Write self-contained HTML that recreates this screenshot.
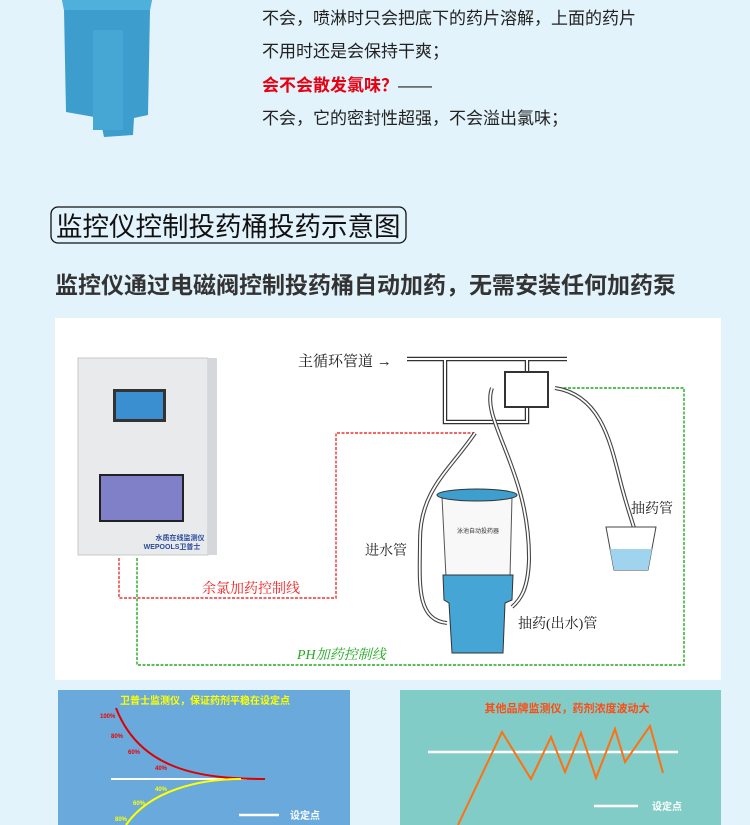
<!DOCTYPE html>
<html><head><meta charset="utf-8"><style>
body{margin:0;width:750px;height:825px;overflow:hidden;background:#e3f3fb;font-family:"Liberation Sans","Noto Sans CJK SC",sans-serif}
</style></head><body>
<svg width="750" height="825" viewBox="0 0 750 825" xmlns="http://www.w3.org/2000/svg" style="position:absolute;left:0;top:0">
<rect width="750" height="825" fill="#e3f3fb"/>
<path d="M62 0 L152 0 L150 10 L148 115 L134 118 L133 135 L104 137 L100 118 L66 112 L64 10 Z" fill="#3d9dcd"/>
<path d="M62 0 L152 0 L150 10 L64 10 Z" fill="#4fb0dc"/>
<rect x="93" y="30" width="30" height="100" fill="#46a6d4"/>
<g font-family="'Liberation Sans','Noto Sans CJK SC',sans-serif" font-size="17" fill="#222">
<text x="262" y="24">不会，喷淋时只会把底下的药片溶解，上面的药片</text>
<text x="262" y="57">不用时还是会保持干爽；</text>
<text x="262" y="91" fill="#e60012" font-weight="bold">会不会散发氯味？<tspan fill="#222" font-weight="normal">——</tspan></text>
<text x="262" y="124">不会，它的密封性超强，不会溢出氯味；</text>
</g>
<rect x="51" y="207" width="355" height="36" rx="7" fill="none" stroke="#111" stroke-width="1.3"/>
<text x="56" y="236" font-size="26.5" fill="#111" font-family="'Liberation Sans','Noto Sans CJK SC',sans-serif">监控仪控制投药桶投药示意图</text>
<text x="55" y="293" font-size="23" font-weight="bold" fill="#333" font-family="'Liberation Sans','Noto Sans CJK SC',sans-serif">监控仪通过电磁阀控制投药桶自动加药，无需安装任何加药泵</text>
<rect x="55" y="318" width="666" height="362" fill="#fff"/>
<rect x="78" y="358" width="130" height="197" fill="#e9eaec" stroke="#c8c8c8"/>
<rect x="208" y="358" width="9" height="197" fill="#d6d7da"/>
<rect x="113" y="389" width="53" height="33" fill="#333"/>
<rect x="116" y="392" width="47" height="27" fill="#3a8fd0"/>
<rect x="99" y="474" width="85" height="48" fill="#222"/>
<rect x="101" y="476" width="81" height="44" fill="#8080c8"/>
<text x="180" y="540" font-size="7" font-weight="bold" fill="#2a4a9a" text-anchor="middle">水质在线监测仪</text>
<text x="172" y="549" font-size="7" font-weight="bold" fill="#2a4a9a" text-anchor="middle">WEPOOLS卫普士</text>
<path d="M119 558 V598 H336 V433 H475" fill="none" stroke="#e33" stroke-width="1.4" stroke-dasharray="3,1.5"/>
<path d="M137 558 V665 H684 V388 H555" fill="none" stroke="#2a2" stroke-width="1.4" stroke-dasharray="3,1.5"/>
<g fill="none" stroke="#333" stroke-width="4.5"><path d="M407 359 H567 M445 359 V422 H527 V407 M527 359 V372"/></g>
<g fill="none" stroke="#fff" stroke-width="2"><path d="M407 359 H567 M445 359 V422 H527 V407 M527 359 V372"/></g>
<rect x="505" y="372" width="43" height="35" fill="#fff" stroke="#333" stroke-width="2"/>
<text x="298" y="366" font-size="15" fill="#222" font-family="'Liberation Serif','Noto Serif CJK SC',serif">主循环管道 →</text>
<g fill="none" stroke="#444" stroke-width="4"><path d="M475 433 C450 470 420 490 420 540 C420 580 415 620 447 623"/><path d="M492 388 C480 420 530 470 529 560 C528 590 520 600 512 607"/><path d="M555 388 C600 395 610 440 620 480 C630 520 640 540 640 555"/></g>
<g fill="none" stroke="#fff" stroke-width="1.8"><path d="M475 433 C450 470 420 490 420 540 C420 580 415 620 447 623"/><path d="M492 388 C480 420 530 470 529 560 C528 590 520 600 512 607"/><path d="M555 388 C600 395 610 440 620 480 C630 520 640 540 640 555"/></g>
<path d="M442 497 L512 497 L510 577 L446 577 Z" fill="#f8f8f8" stroke="#555"/>
<ellipse cx="477" cy="495" rx="40" ry="6" fill="#3e9fcf" stroke="#333"/>
<path d="M443 575 L513 575 L512 600 L505 603 L503 653 L452 653 L449 603 L444 600 Z" fill="#45a6d6" stroke="#333"/>
<text x="478" y="533" font-size="6" fill="#333" text-anchor="middle">泳池自动投药器</text>
<path d="M606 527 L656 527 L648 570 L614 570 Z" fill="#fff" stroke="#444"/>
<path d="M610 549 L652 549 L648 570 L614 570 Z" fill="#9fd3ee"/>
<g font-family="'Liberation Serif','Noto Serif CJK SC',serif" font-size="14" fill="#222">
<text x="365" y="555">进水管</text><text x="631" y="513">抽药管</text><text x="518" y="628">抽药(出水)管</text>
<text x="202" y="593" fill="#e22">余氯加药控制线</text><text x="297" y="659" fill="#2a2" font-style="italic">PH加药控制线</text>
</g>
<rect x="58" y="690" width="292" height="135" fill="#69a9db"/>
<rect x="400" y="690" width="321" height="135" fill="#82ccc8"/>
<g font-family="'Liberation Sans','Noto Sans CJK SC',sans-serif" font-weight="bold">
<text x="205" y="704" font-size="10" fill="#ff0" text-anchor="middle">卫普士监测仪，保证药剂平稳在设定点</text>
<text x="567" y="712" font-size="11" fill="#ff4a10" text-anchor="middle">其他品牌监测仪，药剂浓度波动大</text>
<text x="290" y="819" font-size="10" fill="#fff">设定点</text><text x="652" y="810" font-size="10" fill="#fff">设定点</text>
<g font-size="6" fill="#e00"><text x="100" y="718">100%</text><text x="111" y="738">80%</text><text x="128" y="754">60%</text><text x="155" y="770">40%</text></g>
<g font-size="6" fill="#ff0"><text x="155" y="791">40%</text><text x="133" y="805">60%</text><text x="115" y="821">80%</text></g>
</g>
<line x1="111" y1="779" x2="247" y2="779" stroke="#fff" stroke-width="2"/>
<path d="M116 708 C140 770 200 779 265 779" fill="none" stroke="#d00" stroke-width="2"/>
<path d="M126 825 C150 790 200 779 241 779" fill="none" stroke="#ff0" stroke-width="2"/>
<line x1="239" y1="815" x2="279" y2="815" stroke="#fff" stroke-width="2.5"/>
<line x1="428" y1="752" x2="678" y2="752" stroke="#fff" stroke-width="2.5"/>
<polyline points="458,825 502,732 531,779 551,737 565,772 581,733 596,778 615,729 625,762 650,726 663,773" fill="none" stroke="#ff7010" stroke-width="2"/>
<line x1="594" y1="806" x2="638" y2="806" stroke="#fff" stroke-width="2.5"/>
</svg>
</body></html>
